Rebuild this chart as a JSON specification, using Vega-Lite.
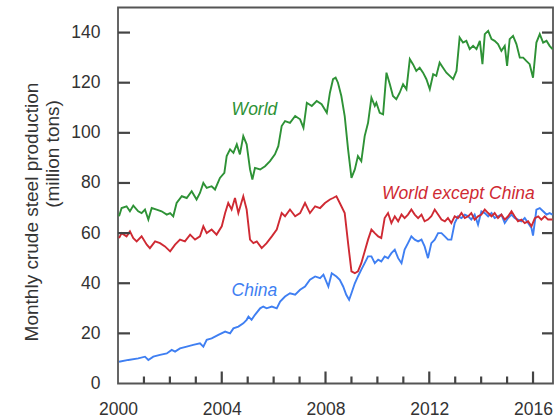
{
  "$schema": "https://vega.github.io/schema/vega-lite/v6.json",
  "width": 435,
  "height": 376,
  "autosize": {"type": "none"},
  "padding": {"left": 118, "top": 7.5, "right": 6, "bottom": 34.5},
  "datasets": {
    "series": [
      {"s":"World","t":2000.04,"v":66.7},{"s":"World","t":2000.14,"v":70},{"s":"World","t":2000.33,"v":70.7},{"s":"World","t":2000.46,"v":68.7},{"s":"World","t":2000.59,"v":71},{"s":"World","t":2000.78,"v":68.7},{"s":"World","t":2000.91,"v":68},{"s":"World","t":2001.04,"v":69.4},{"s":"World","t":2001.17,"v":65.4},{"s":"World","t":2001.30,"v":70},{"s":"World","t":2001.49,"v":69.4},{"s":"World","t":2001.68,"v":68.7},{"s":"World","t":2001.88,"v":67.4},{"s":"World","t":2002.01,"v":68},{"s":"World","t":2002.13,"v":66.7},{"s":"World","t":2002.26,"v":72},{"s":"World","t":2002.46,"v":74.7},{"s":"World","t":2002.65,"v":74},{"s":"World","t":2002.84,"v":76.7},{"s":"World","t":2003.03,"v":73.4},{"s":"World","t":2003.16,"v":76},{"s":"World","t":2003.29,"v":80},{"s":"World","t":2003.42,"v":78},{"s":"World","t":2003.61,"v":78.7},{"s":"World","t":2003.74,"v":77.4},{"s":"World","t":2003.93,"v":82},{"s":"World","t":2004.10,"v":84},{"s":"World","t":2004.19,"v":90.7},{"s":"World","t":2004.32,"v":93.4},{"s":"World","t":2004.45,"v":92},{"s":"World","t":2004.58,"v":95.4},{"s":"World","t":2004.70,"v":91.4},{"s":"World","t":2004.83,"v":98.7},{"s":"World","t":2004.96,"v":95.4},{"s":"World","t":2005.09,"v":85.4},{"s":"World","t":2005.18,"v":81.4},{"s":"World","t":2005.28,"v":86},{"s":"World","t":2005.48,"v":85.4},{"s":"World","t":2005.67,"v":86.7},{"s":"World","t":2005.86,"v":88.7},{"s":"World","t":2006.05,"v":91.4},{"s":"World","t":2006.18,"v":94.7},{"s":"World","t":2006.31,"v":102.7},{"s":"World","t":2006.44,"v":104.7},{"s":"World","t":2006.63,"v":104},{"s":"World","t":2006.83,"v":106.7},{"s":"World","t":2007.02,"v":105.4},{"s":"World","t":2007.15,"v":102},{"s":"World","t":2007.28,"v":112},{"s":"World","t":2007.47,"v":110.7},{"s":"World","t":2007.66,"v":112.7},{"s":"World","t":2007.85,"v":111.4},{"s":"World","t":2008.05,"v":108},{"s":"World","t":2008.17,"v":116},{"s":"World","t":2008.29,"v":121.4},{"s":"World","t":2008.39,"v":122},{"s":"World","t":2008.48,"v":120},{"s":"World","t":2008.61,"v":114.7},{"s":"World","t":2008.74,"v":106.7},{"s":"World","t":2008.87,"v":93.4},{"s":"World","t":2009.00,"v":82},{"s":"World","t":2009.13,"v":85.4},{"s":"World","t":2009.25,"v":90.7},{"s":"World","t":2009.38,"v":88.7},{"s":"World","t":2009.51,"v":98.7},{"s":"World","t":2009.64,"v":104},{"s":"World","t":2009.77,"v":114},{"s":"World","t":2009.90,"v":110.7},{"s":"World","t":2009.96,"v":112},{"s":"World","t":2010.09,"v":108},{"s":"World","t":2010.22,"v":107.4},{"s":"World","t":2010.35,"v":124},{"s":"World","t":2010.48,"v":119.4},{"s":"World","t":2010.60,"v":114.7},{"s":"World","t":2010.73,"v":113.4},{"s":"World","t":2010.86,"v":116},{"s":"World","t":2010.99,"v":119.4},{"s":"World","t":2011.12,"v":117.4},{"s":"World","t":2011.25,"v":129.4},{"s":"World","t":2011.37,"v":127.4},{"s":"World","t":2011.50,"v":124.7},{"s":"World","t":2011.63,"v":126},{"s":"World","t":2011.76,"v":124},{"s":"World","t":2011.89,"v":121.4},{"s":"World","t":2012.02,"v":117.4},{"s":"World","t":2012.15,"v":123.4},{"s":"World","t":2012.27,"v":122.7},{"s":"World","t":2012.40,"v":128},{"s":"World","t":2012.53,"v":126},{"s":"World","t":2012.66,"v":124},{"s":"World","t":2012.79,"v":122.7},{"s":"World","t":2012.92,"v":121.4},{"s":"World","t":2013.05,"v":124.7},{"s":"World","t":2013.17,"v":138},{"s":"World","t":2013.30,"v":136},{"s":"World","t":2013.43,"v":136.7},{"s":"World","t":2013.56,"v":133.4},{"s":"World","t":2013.69,"v":134.7},{"s":"World","t":2013.82,"v":133.4},{"s":"World","t":2013.95,"v":136.7},{"s":"World","t":2014.05,"v":127.4},{"s":"World","t":2014.14,"v":139.4},{"s":"World","t":2014.27,"v":140.7},{"s":"World","t":2014.40,"v":137.4},{"s":"World","t":2014.52,"v":136.7},{"s":"World","t":2014.65,"v":135.4},{"s":"World","t":2014.78,"v":132.7},{"s":"World","t":2014.91,"v":134.7},{"s":"World","t":2015.00,"v":126.7},{"s":"World","t":2015.10,"v":137.4},{"s":"World","t":2015.23,"v":138.7},{"s":"World","t":2015.36,"v":135.4},{"s":"World","t":2015.49,"v":130},{"s":"World","t":2015.62,"v":130},{"s":"World","t":2015.74,"v":128.7},{"s":"World","t":2015.87,"v":127.4},{"s":"World","t":2016.00,"v":122},{"s":"World","t":2016.13,"v":136},{"s":"World","t":2016.26,"v":139.4},{"s":"World","t":2016.39,"v":136},{"s":"World","t":2016.52,"v":136.7},{"s":"World","t":2016.64,"v":134.7},{"s":"World","t":2016.75,"v":133.4},
      {"s":"China","t":2000.04,"v":8.7},{"s":"China","t":2000.40,"v":9.4},{"s":"China","t":2000.78,"v":10},{"s":"China","t":2001.04,"v":10.7},{"s":"China","t":2001.17,"v":9.4},{"s":"China","t":2001.36,"v":10.7},{"s":"China","t":2001.62,"v":11.4},{"s":"China","t":2001.88,"v":12},{"s":"China","t":2002.07,"v":13.4},{"s":"China","t":2002.20,"v":12.7},{"s":"China","t":2002.39,"v":14},{"s":"China","t":2002.65,"v":14.7},{"s":"China","t":2002.90,"v":15.4},{"s":"China","t":2003.16,"v":16},{"s":"China","t":2003.29,"v":14.7},{"s":"China","t":2003.42,"v":17.4},{"s":"China","t":2003.61,"v":18},{"s":"China","t":2003.87,"v":19.4},{"s":"China","t":2004.13,"v":20.7},{"s":"China","t":2004.32,"v":20},{"s":"China","t":2004.45,"v":22},{"s":"China","t":2004.64,"v":22.7},{"s":"China","t":2004.83,"v":24},{"s":"China","t":2004.96,"v":25.4},{"s":"China","t":2005.03,"v":26.7},{"s":"China","t":2005.15,"v":25.4},{"s":"China","t":2005.28,"v":27.4},{"s":"China","t":2005.48,"v":30},{"s":"China","t":2005.60,"v":30.7},{"s":"China","t":2005.73,"v":30},{"s":"China","t":2005.93,"v":30.7},{"s":"China","t":2006.12,"v":30},{"s":"China","t":2006.25,"v":32.7},{"s":"China","t":2006.44,"v":34.7},{"s":"China","t":2006.63,"v":36},{"s":"China","t":2006.83,"v":35.4},{"s":"China","t":2007.02,"v":37.4},{"s":"China","t":2007.21,"v":38.7},{"s":"China","t":2007.40,"v":41.4},{"s":"China","t":2007.60,"v":42.7},{"s":"China","t":2007.79,"v":42},{"s":"China","t":2007.92,"v":43.4},{"s":"China","t":2008.11,"v":38.7},{"s":"China","t":2008.24,"v":44},{"s":"China","t":2008.42,"v":42.7},{"s":"China","t":2008.55,"v":41.4},{"s":"China","t":2008.68,"v":38.7},{"s":"China","t":2008.80,"v":35.4},{"s":"China","t":2008.91,"v":33.4},{"s":"China","t":2009.00,"v":36},{"s":"China","t":2009.13,"v":40},{"s":"China","t":2009.25,"v":42.7},{"s":"China","t":2009.38,"v":45.4},{"s":"China","t":2009.51,"v":48},{"s":"China","t":2009.64,"v":50.7},{"s":"China","t":2009.77,"v":50.7},{"s":"China","t":2009.90,"v":48},{"s":"China","t":2010.03,"v":49.4},{"s":"China","t":2010.15,"v":48.7},{"s":"China","t":2010.28,"v":50.7},{"s":"China","t":2010.41,"v":50},{"s":"China","t":2010.54,"v":52},{"s":"China","t":2010.67,"v":53.4},{"s":"China","t":2010.80,"v":50},{"s":"China","t":2010.93,"v":48},{"s":"China","t":2011.05,"v":53.4},{"s":"China","t":2011.18,"v":56},{"s":"China","t":2011.31,"v":58.7},{"s":"China","t":2011.44,"v":57.4},{"s":"China","t":2011.57,"v":56.7},{"s":"China","t":2011.70,"v":57.4},{"s":"China","t":2011.82,"v":54.7},{"s":"China","t":2011.95,"v":50},{"s":"China","t":2012.08,"v":56},{"s":"China","t":2012.21,"v":57.4},{"s":"China","t":2012.34,"v":60},{"s":"China","t":2012.47,"v":60},{"s":"China","t":2012.60,"v":58.7},{"s":"China","t":2012.72,"v":57.4},{"s":"China","t":2012.85,"v":57.4},{"s":"China","t":2012.98,"v":64},{"s":"China","t":2013.11,"v":66.7},{"s":"China","t":2013.24,"v":66},{"s":"China","t":2013.37,"v":67.4},{"s":"China","t":2013.50,"v":66.7},{"s":"China","t":2013.62,"v":65.4},{"s":"China","t":2013.75,"v":67.4},{"s":"China","t":2013.88,"v":63.4},{"s":"China","t":2014.01,"v":68.7},{"s":"China","t":2014.14,"v":68},{"s":"China","t":2014.27,"v":66.7},{"s":"China","t":2014.40,"v":68},{"s":"China","t":2014.52,"v":66},{"s":"China","t":2014.65,"v":66.7},{"s":"China","t":2014.78,"v":67.4},{"s":"China","t":2014.91,"v":64},{"s":"China","t":2015.04,"v":66},{"s":"China","t":2015.17,"v":67.4},{"s":"China","t":2015.29,"v":66},{"s":"China","t":2015.42,"v":65.4},{"s":"China","t":2015.55,"v":64.7},{"s":"China","t":2015.68,"v":66},{"s":"China","t":2015.81,"v":64},{"s":"China","t":2015.94,"v":62},{"s":"China","t":2016.00,"v":59},{"s":"China","t":2016.13,"v":69.4},{"s":"China","t":2016.26,"v":70},{"s":"China","t":2016.39,"v":68.7},{"s":"China","t":2016.52,"v":67.4},{"s":"China","t":2016.64,"v":68},{"s":"China","t":2016.75,"v":67.4},
      {"s":"World except China","t":2000.04,"v":58},{"s":"World except China","t":2000.14,"v":60},{"s":"World except China","t":2000.33,"v":58.7},{"s":"World except China","t":2000.46,"v":60.7},{"s":"World except China","t":2000.59,"v":58},{"s":"World except China","t":2000.72,"v":56.7},{"s":"World except China","t":2000.91,"v":58.7},{"s":"World except China","t":2001.11,"v":55.4},{"s":"World except China","t":2001.23,"v":54},{"s":"World except China","t":2001.43,"v":56.7},{"s":"World except China","t":2001.62,"v":56},{"s":"World except China","t":2001.81,"v":54.7},{"s":"World except China","t":2002.01,"v":52.7},{"s":"World except China","t":2002.20,"v":55.4},{"s":"World except China","t":2002.39,"v":57.4},{"s":"World except China","t":2002.58,"v":56.7},{"s":"World except China","t":2002.78,"v":59.4},{"s":"World except China","t":2002.97,"v":57.4},{"s":"World except China","t":2003.16,"v":58.7},{"s":"World except China","t":2003.29,"v":62.7},{"s":"World except China","t":2003.42,"v":60},{"s":"World except China","t":2003.61,"v":61.4},{"s":"World except China","t":2003.80,"v":59.4},{"s":"World except China","t":2004.00,"v":62.7},{"s":"World except China","t":2004.13,"v":68},{"s":"World except China","t":2004.25,"v":72},{"s":"World except China","t":2004.38,"v":69.4},{"s":"World except China","t":2004.51,"v":74},{"s":"World except China","t":2004.64,"v":68},{"s":"World except China","t":2004.83,"v":74.7},{"s":"World except China","t":2004.96,"v":69.4},{"s":"World except China","t":2005.09,"v":57.4},{"s":"World except China","t":2005.22,"v":56},{"s":"World except China","t":2005.35,"v":56.7},{"s":"World except China","t":2005.54,"v":54},{"s":"World except China","t":2005.73,"v":56},{"s":"World except China","t":2005.93,"v":58.7},{"s":"World except China","t":2006.12,"v":61.4},{"s":"World except China","t":2006.31,"v":68},{"s":"World except China","t":2006.44,"v":66.7},{"s":"World except China","t":2006.63,"v":69.4},{"s":"World except China","t":2006.83,"v":66.7},{"s":"World except China","t":2007.02,"v":68},{"s":"World except China","t":2007.21,"v":72},{"s":"World except China","t":2007.40,"v":68},{"s":"World except China","t":2007.60,"v":70.7},{"s":"World except China","t":2007.79,"v":70},{"s":"World except China","t":2007.98,"v":72},{"s":"World except China","t":2008.17,"v":73.4},{"s":"World except China","t":2008.29,"v":74},{"s":"World except China","t":2008.42,"v":74.7},{"s":"World except China","t":2008.55,"v":72},{"s":"World except China","t":2008.74,"v":68},{"s":"World except China","t":2008.87,"v":56},{"s":"World except China","t":2009.00,"v":44.7},{"s":"World except China","t":2009.13,"v":44},{"s":"World except China","t":2009.25,"v":44.7},{"s":"World except China","t":2009.38,"v":48},{"s":"World except China","t":2009.51,"v":52.7},{"s":"World except China","t":2009.64,"v":57.4},{"s":"World except China","t":2009.77,"v":61.4},{"s":"World except China","t":2009.90,"v":60},{"s":"World except China","t":2010.03,"v":58.7},{"s":"World except China","t":2010.15,"v":58},{"s":"World except China","t":2010.28,"v":66},{"s":"World except China","t":2010.41,"v":68},{"s":"World except China","t":2010.54,"v":64},{"s":"World except China","t":2010.67,"v":66.7},{"s":"World except China","t":2010.80,"v":64.7},{"s":"World except China","t":2010.93,"v":67.4},{"s":"World except China","t":2011.05,"v":66},{"s":"World except China","t":2011.18,"v":67.4},{"s":"World except China","t":2011.31,"v":69.4},{"s":"World except China","t":2011.44,"v":67.4},{"s":"World except China","t":2011.57,"v":66},{"s":"World except China","t":2011.70,"v":67.4},{"s":"World except China","t":2011.82,"v":64.7},{"s":"World except China","t":2011.95,"v":65.4},{"s":"World except China","t":2012.08,"v":66.7},{"s":"World except China","t":2012.21,"v":69.4},{"s":"World except China","t":2012.34,"v":67.4},{"s":"World except China","t":2012.47,"v":65.4},{"s":"World except China","t":2012.60,"v":64.7},{"s":"World except China","t":2012.72,"v":66},{"s":"World except China","t":2012.85,"v":64},{"s":"World except China","t":2012.98,"v":66.7},{"s":"World except China","t":2013.11,"v":66},{"s":"World except China","t":2013.24,"v":68},{"s":"World except China","t":2013.37,"v":66},{"s":"World except China","t":2013.50,"v":66.7},{"s":"World except China","t":2013.62,"v":68},{"s":"World except China","t":2013.75,"v":65.4},{"s":"World except China","t":2013.88,"v":66.7},{"s":"World except China","t":2014.01,"v":67.4},{"s":"World except China","t":2014.14,"v":69.4},{"s":"World except China","t":2014.27,"v":68},{"s":"World except China","t":2014.40,"v":66.7},{"s":"World except China","t":2014.52,"v":68},{"s":"World except China","t":2014.65,"v":66},{"s":"World except China","t":2014.78,"v":67.4},{"s":"World except China","t":2014.91,"v":65.4},{"s":"World except China","t":2015.04,"v":66.7},{"s":"World except China","t":2015.17,"v":68.7},{"s":"World except China","t":2015.29,"v":66.7},{"s":"World except China","t":2015.42,"v":64.7},{"s":"World except China","t":2015.55,"v":65.4},{"s":"World except China","t":2015.68,"v":64},{"s":"World except China","t":2015.81,"v":64.7},{"s":"World except China","t":2015.94,"v":62.7},{"s":"World except China","t":2016.07,"v":66},{"s":"World except China","t":2016.20,"v":66.7},{"s":"World except China","t":2016.32,"v":65.4},{"s":"World except China","t":2016.45,"v":66.7},{"s":"World except China","t":2016.58,"v":65.4},{"s":"World except China","t":2016.75,"v":65.4}
    ],
    "xmajor": [{"t": 2004}, {"t": 2008}, {"t": 2012}, {"t": 2016}],
    "xminor": [{"t": 2001}, {"t": 2002}, {"t": 2003}, {"t": 2005}, {"t": 2006}, {"t": 2007}, {"t": 2009}, {"t": 2010}, {"t": 2011}, {"t": 2013}, {"t": 2014}, {"t": 2015}],
    "yticks": [{"v": 20}, {"v": 40}, {"v": 60}, {"v": 80}, {"v": 100}, {"v": 120}, {"v": 140}]
  },
  "layer": [
    {
      "data": {"name": "series"},
      "mark": {"type": "line", "strokeWidth": 1.9, "clip": true},
      "encoding": {
        "x": {"field": "t", "type": "quantitative",
              "scale": {"domain": [2000, 2016.77], "nice": false, "zero": false},
              "axis": {"values": [2000, 2004, 2008, 2012, 2016], "format": "d", "ticks": false, "labelPadding": 16.5, "labelFlush": false, "labelOverlap": false, "title": null}},
        "y": {"field": "v", "type": "quantitative",
              "scale": {"domain": [0, 150], "nice": false, "zero": true},
              "axis": {"values": [0, 20, 40, 60, 80, 100, 120, 140], "ticks": false, "labelPadding": 18, "title": null}},
        "color": {"field": "s", "type": "nominal",
                  "scale": {"domain": ["World", "World except China", "China"], "range": ["#2e9236", "#cf2a33", "#3f7ff2"]},
                  "legend": null}
      }
    },
    {
      "data": {"values": [{"s": "World", "label": "World", "t": 2004.38, "v": 109.2}]},
      "mark": {"type": "text", "align": "left", "baseline": "middle", "fontStyle": "italic", "fontSize": 17.5, "font": "Liberation Sans"},
      "encoding": {
        "x": {"field": "t", "type": "quantitative", "axis": null},
        "y": {"field": "v", "type": "quantitative",
              "axis": {"orient": "left", "ticks": false, "labels": false, "title": "Monthly crude steel production",
                       "titleX": -81, "titleY": 204, "titleAngle": -90, "titleBaseline": "alphabetic", "titleAlign": "center"}},
        "text": {"field": "label"},
        "color": {"field": "s", "type": "nominal", "legend": null}
      }
    },
    {
      "data": {"values": [{"s": "China", "label": "China", "t": 2004.38, "v": 37}]},
      "mark": {"type": "text", "align": "left", "baseline": "middle", "fontStyle": "italic", "fontSize": 17.5, "font": "Liberation Sans"},
      "encoding": {
        "x": {"field": "t", "type": "quantitative", "axis": null},
        "y": {"field": "v", "type": "quantitative",
              "axis": {"orient": "left", "ticks": false, "labels": false, "title": "(million tons)",
                       "titleX": -60, "titleY": 146, "titleAngle": -90, "titleBaseline": "alphabetic", "titleAlign": "center"}},
        "text": {"field": "label"},
        "color": {"field": "s", "type": "nominal", "legend": null}
      }
    },
    {
      "data": {"values": [{"s": "World except China", "label": "World except China", "t": 2010.18, "v": 75.6}]},
      "mark": {"type": "text", "align": "left", "baseline": "middle", "fontStyle": "italic", "fontSize": 17.5, "font": "Liberation Sans"},
      "encoding": {
        "x": {"field": "t", "type": "quantitative", "axis": null},
        "y": {"field": "v", "type": "quantitative", "axis": null},
        "text": {"field": "label"},
        "color": {"field": "s", "type": "nominal", "legend": null}
      }
    },
    {
      "data": {"name": "xmajor"},
      "mark": {"type": "tick", "orient": "vertical", "size": 12, "thickness": 2.2, "color": "#444444", "yOffset": -6, "opacity": 1},
      "encoding": {
        "x": {"field": "t", "type": "quantitative", "axis": null},
        "y": {"datum": 0, "type": "quantitative", "axis": null}
      }
    },
    {
      "data": {"name": "xminor"},
      "mark": {"type": "tick", "orient": "vertical", "size": 7, "thickness": 2.2, "color": "#444444", "yOffset": -3.5, "opacity": 1},
      "encoding": {
        "x": {"field": "t", "type": "quantitative", "axis": null},
        "y": {"datum": 0, "type": "quantitative", "axis": null}
      }
    },
    {
      "data": {"name": "yticks"},
      "mark": {"type": "tick", "orient": "horizontal", "size": 12, "thickness": 2.2, "color": "#444444", "xOffset": 6, "opacity": 1},
      "encoding": {
        "x": {"datum": 2000, "type": "quantitative", "axis": null},
        "y": {"field": "v", "type": "quantitative", "axis": null}
      }
    },
    {
      "data": {"name": "yticks"},
      "mark": {"type": "tick", "orient": "horizontal", "size": 11, "thickness": 2.2, "color": "#444444", "xOffset": -5.5, "opacity": 1},
      "encoding": {
        "x": {"datum": 2016.77, "type": "quantitative", "axis": null},
        "y": {"field": "v", "type": "quantitative", "axis": null}
      }
    }
  ],
  "resolve": {"axis": {"x": "independent", "y": "independent"}},
  "config": {
    "font": "Liberation Sans",
    "background": "white",
    "view": {"stroke": "#555555", "strokeWidth": 1.8},
    "axis": {
      "domain": false, "grid": false,
      "labelFont": "Liberation Sans", "labelFontSize": 17.5, "labelColor": "#333333",
      "titleFont": "Liberation Sans", "titleFontSize": 19, "titleFontWeight": "normal", "titleColor": "#333333"
    }
  }
}
